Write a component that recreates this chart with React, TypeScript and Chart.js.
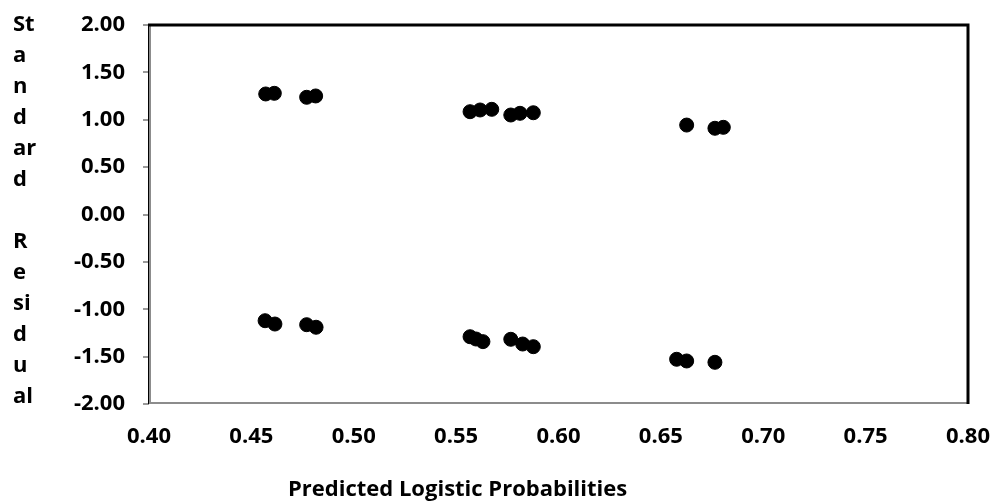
import React, { useEffect, useRef } from "react";
import { Chart, registerables } from "chart.js";

Chart.register(...registerables);

// Predicted logistic probabilities (x) and standardized residuals (y)
const predicted = [
  0.457, 0.4612, 0.477, 0.4814, 0.5568, 0.5617, 0.5674, 0.5767, 0.5812, 0.5877, 0.6626, 0.6764, 0.6805,
  0.4567, 0.4615, 0.477, 0.4816, 0.5568, 0.5597, 0.5631, 0.5767, 0.5825, 0.5877, 0.6577, 0.6626, 0.6764,
];
const residuals = [
  1.272, 1.279, 1.237, 1.251, 1.085, 1.103, 1.11, 1.05, 1.068, 1.074, 0.944, 0.91, 0.92,
  -1.121, -1.156, -1.163, -1.19, -1.29, -1.314, -1.342, -1.317, -1.367, -1.395, -1.528, -1.546, -1.56,
];
const xTitle = "Predicted Logistic Probabilities";
const yTitleLines = ["St", "a", "n", "d", "ar", "d", "", "R", "e", "si", "d", "u", "al"];

const FONT = '"Open Sans", sans-serif';

export default function App() {
  const ref = useRef<HTMLCanvasElement>(null);

  useEffect(() => {
    if (!ref.current) return;
    const points = predicted.map((x, i) => ({ x, y: residuals[i] }));

    const frame = {
      id: "frame",
      afterDatasetsDraw(chart: any) {
        const { ctx, chartArea: a } = chart;
        ctx.save();
        ctx.strokeStyle = "#8c8c8c";
        ctx.lineWidth = 2;
        ctx.beginPath();
        ctx.moveTo(a.left + 1, a.top);
        ctx.lineTo(a.left + 1, a.bottom - 1);
        ctx.lineTo(a.right, a.bottom - 1);
        ctx.stroke();
        ctx.strokeStyle = "#000";
        ctx.lineWidth = 1;
        ctx.beginPath();
        ctx.moveTo(a.left - 0.5, a.top);
        ctx.lineTo(a.left - 0.5, a.bottom);
        ctx.stroke();
        ctx.lineWidth = 3;
        ctx.beginPath();
        ctx.moveTo(a.left - 1, a.top);
        ctx.lineTo(a.right, a.top);
        ctx.lineTo(a.right, a.bottom);
        ctx.stroke();
        ctx.restore();
      },
      afterDraw(chart: any) {
        const { ctx } = chart;
        ctx.save();
        ctx.fillStyle = "#000";
        ctx.font = `bold 22px ${FONT}`;
        ctx.textAlign = "left";
        ctx.textBaseline = "alphabetic";
        ctx.fillText(xTitle, 288, 496);
        yTitleLines.forEach((t, i) => {
          if (t) ctx.fillText(t, 13, 31 + i * 31);
        });
        ctx.restore();
      },
    };

    const chart = new Chart(ref.current, {
      type: "scatter",
      data: {
        datasets: [
          {
            data: points,
            backgroundColor: "#000",
            borderColor: "#000",
            pointRadius: 7,
            pointHoverRadius: 7,
          },
        ],
      },
      options: {
        responsive: false,
        animation: false,
        layout: { padding: { top: 25, right: 29, left: 0, bottom: 0 } },
        plugins: { legend: { display: false }, tooltip: { enabled: false } },
        scales: {
          x: {
            type: "linear",
            min: 0.4,
            max: 0.8,
            border: { display: false },
            grid: { drawOnChartArea: false, drawTicks: false, tickLength: 0 },
            ticks: {
              stepSize: 0.05,
              padding: 20,
              color: "#000",
              font: { family: FONT, size: 22, weight: "bold" },
              callback: (v: any) => Number(v).toFixed(2),
              maxRotation: 0,
              autoSkip: false,
            },
            afterFit: (s: any) => {
              s.height = 99;
              s.paddingLeft = 0;
              s.paddingRight = 0;
            },
          },
          y: {
            type: "linear",
            min: -2,
            max: 2,
            border: { display: false },
            grid: { drawOnChartArea: false, drawTicks: true, tickLength: 6, color: "#999", lineWidth: 2 },
            ticks: {
              stepSize: 0.5,
              padding: 18,
              color: "#000",
              font: { family: FONT, size: 22, weight: "bold" },
              callback: (v: any) => Number(v).toFixed(2),
            },
            afterFit: (s: any) => {
              s.width = 149;
              s.paddingTop = 0;
              s.paddingBottom = 0;
            },
          },
        },
      },
      plugins: [frame],
    });
    return () => chart.destroy();
  }, []);

  return (
    <div style={{ position: "fixed", left: 0, top: 0, width: 997, height: 503, background: "#fff" }}>
      <canvas ref={ref} width={997} height={503} style={{ width: 997, height: 503 }} />
    </div>
  );
}
